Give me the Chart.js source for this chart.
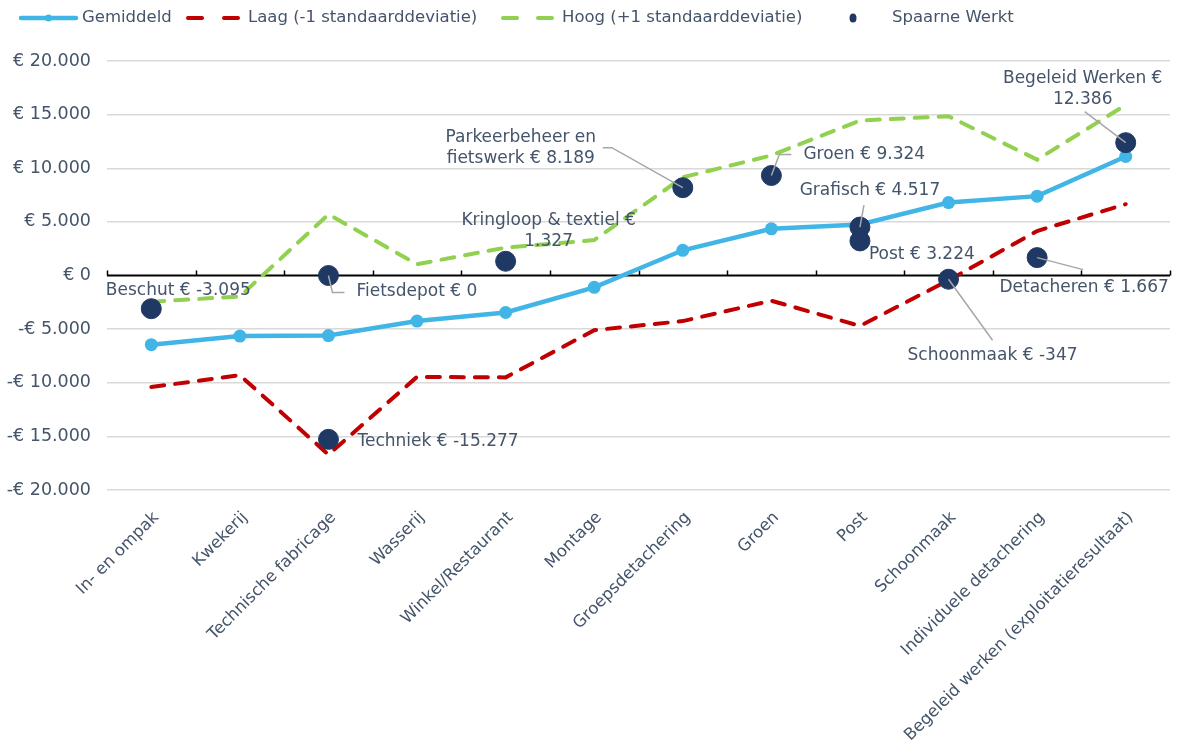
<!DOCTYPE html>
<html lang="nl">
<head>
<meta charset="utf-8">
<title>Spaarne Werkt - resultaat per werksoort</title>
<script src="https://cdn.jsdelivr.net/npm/chart.js@4.4.1/dist/chart.umd.min.js"></script>
<style>
  html, body { margin: 0; padding: 0; background: #fff; }
  #wrap { position: relative; width: 1177px; height: 744px; }
</style>
</head>
<body>
<div id="wrap"><canvas id="chart" width="1177" height="744"></canvas></div>
<script>
// Categorieen (x-as)
const categories = [
  'In- en ompak', 'Kwekerij', 'Technische fabricage', 'Wasserij',
  'Winkel/Restaurant', 'Montage', 'Groepsdetachering', 'Groen', 'Post',
  'Schoonmaak', 'Individuele detachering', 'Begeleid werken (exploitatieresultaat)'
];

// Benchmark reeksen
const gemiddeld = [-6450, -5650, -5600, -4250, -3450, -1100, 2350, 4350, 4750, 6800, 7400, 11100];
const laag = [-10400, -9300, -16700, -9450, -9500, -5100, -4250, -2350, -4700, -450, 4150, 6650];
const hoog = [-2450, -1950, 5700, 1050, 2600, 3300, 9150, 11200, 14450, 14850, 10800, 15900];

// Spaarne Werkt
const spaarneNames = [
  'Beschut', 'Fietsdepot', 'Techniek', 'Kringloop & textiel', 'Parkeerbeheer en fietswerk',
  'Groen', 'Grafisch', 'Post', 'Schoonmaak', 'Detacheren', 'Begeleid Werken'
];
const spaarneCategories = [
  'In- en ompak', 'Technische fabricage', 'Technische fabricage', 'Winkel/Restaurant',
  'Groepsdetachering', 'Groen', 'Post', 'Post', 'Schoonmaak',
  'Individuele detachering', 'Begeleid werken (exploitatieresultaat)'
];
const spaarneValues = [-3095, 0, -15277, 1327, 8189, 9324, 4517, 3224, -347, 1667, 12386];

// y-as
const yMin = -20000;
const yMax = 20000;
const yStep = 5000;

// Kleuren
const COLORS = {
  gemiddeld: '#41B6E6',
  laag: '#C00000',
  hoog: '#92D050',
  spaarne: '#203864',
  text: '#44546A',
  grid: '#D9D9D9',
  leader: '#A6A6A6'
};
const FONT = '"DejaVu Sans", Verdana, sans-serif';

// Plaatsing van de datalabels t.o.v. het punt (in pixels)
const labelLayout = [
  { align: 'center', dx: 27, dy: -18 },
  { align: 'left', dx: 28, dy: 16, leader: [[4, 17], [16, 17]] },
  { align: 'left', dx: 29, dy: 2 },
  { align: 'center', dx: 43, dy: -41, breakAt: 4 },
  { align: 'center', dx: -162, dy: -50, breakAt: 2, leader: [[-71, -40], [-80, -40]] },
  { align: 'left', dx: 32, dy: -21, leader: [[8, -21], [20, -21]] },
  { align: 'center', dx: 10, dy: -36, leader: [[4, -22]] },
  { align: 'left', dx: 9, dy: 14 },
  { align: 'center', dx: 44, dy: 76, leader: [[44, 61]] },
  { align: 'center', dx: 47, dy: 30, leader: [[46, 12]] },
  { align: 'center', dx: -43, dy: -64, breakAt: 3, leader: [[-41, -31]] }
];

/**
 * Duizendtallen met een punt (nl-NL)
 */
function thousands(n) {
  return String(Math.abs(n)).replace(/\B(?=(\d{3})+(?!\d))/g, '.');
}

function tickLabel(v) {
  return (v < 0 ? '-€ ' : '€ ') + thousands(v);
}

function dataLabel(name, v) {
  return name + ' € ' + (v < 0 ? '-' : '') + thousands(v);
}

const spaarnePoints = spaarneValues.map((v, i) => ({ x: spaarneCategories[i], y: v }));

// Nullijn met streepjes op de categoriegrenzen
const zeroAxis = {
  id: 'zeroAxis',
  beforeDatasetsDraw(chart) {
    const { ctx, chartArea } = chart;
    const x = chart.scales.x;
    const y0 = chart.scales.y.getPixelForValue(0);
    const half = (x.getPixelForValue(1) - x.getPixelForValue(0)) / 2;
    ctx.save();
    ctx.strokeStyle = '#000';
    ctx.lineWidth = 2;
    ctx.beginPath();
    ctx.moveTo(chartArea.left, y0);
    ctx.lineTo(chartArea.right, y0);
    ctx.stroke();
    ctx.lineWidth = 1.5;
    for (let i = 0; i <= categories.length; i++) {
      const px = Math.round(x.getPixelForValue(i) - half) + 0.5;
      ctx.beginPath();
      ctx.moveTo(px, y0 - 5);
      ctx.lineTo(px, y0);
      ctx.stroke();
    }
    ctx.restore();
  }
};

// Datalabels bij de Spaarne Werkt punten
const spaarneLabels = {
  id: 'spaarneLabels',
  afterDatasetsDraw(chart) {
    const ctx = chart.ctx;
    const meta = chart.getDatasetMeta(0);
    ctx.save();
    ctx.font = '17px ' + FONT;
    ctx.textBaseline = 'middle';
    meta.data.forEach((pt, i) => {
      const lay = labelLayout[i];
      if (lay.leader) {
        ctx.strokeStyle = COLORS.leader;
        ctx.lineWidth = 1.5;
        ctx.beginPath();
        ctx.moveTo(pt.x, pt.y);
        lay.leader.forEach(([dx, dy]) => ctx.lineTo(pt.x + dx, pt.y + dy));
        ctx.stroke();
      }
      const words = dataLabel(spaarneNames[i], spaarneValues[i]).split(' ');
      const lines = lay.breakAt
        ? [words.slice(0, lay.breakAt).join(' '), words.slice(lay.breakAt).join(' ')]
        : [words.join(' ')];
      ctx.fillStyle = COLORS.text;
      ctx.textAlign = lay.align;
      lines.forEach((line, k) => ctx.fillText(line, pt.x + lay.dx, pt.y + lay.dy + k * 21));
    });
    ctx.restore();
  }
};

// Legenda bovenaan, zoals in Excel
const topLegend = {
  id: 'topLegend',
  afterDraw(chart) {
    const ctx = chart.ctx;
    const y = 18;
    ctx.save();
    ctx.font = '16.5px ' + FONT;
    ctx.textBaseline = 'middle';
    ctx.textAlign = 'left';

    // Gemiddeld
    ctx.strokeStyle = COLORS.gemiddeld;
    ctx.lineWidth = 4.5;
    ctx.lineCap = 'round';
    ctx.beginPath(); ctx.moveTo(21, y); ctx.lineTo(76, y); ctx.stroke();
    ctx.fillStyle = COLORS.gemiddeld;
    ctx.beginPath(); ctx.arc(48.5, y, 3.5, 0, Math.PI * 2); ctx.fill();
    ctx.fillStyle = COLORS.text;
    ctx.fillText('Gemiddeld', 82, y);

    // Laag
    ctx.lineWidth = 4;
    ctx.strokeStyle = COLORS.laag;
    [[188, 202], [224, 238]].forEach(([a, b]) => {
      ctx.beginPath(); ctx.moveTo(a, y); ctx.lineTo(b, y); ctx.stroke();
    });
    ctx.fillText('Laag (-1 standaarddeviatie)', 248, y);

    // Hoog
    ctx.strokeStyle = COLORS.hoog;
    [[503, 517], [538, 552]].forEach(([a, b]) => {
      ctx.beginPath(); ctx.moveTo(a, y); ctx.lineTo(b, y); ctx.stroke();
    });
    ctx.fillText('Hoog (+1 standaarddeviatie)', 562, y);

    // Spaarne Werkt
    ctx.fillStyle = COLORS.spaarne;
    ctx.beginPath(); ctx.ellipse(853, y, 3.5, 4.5, 0, 0, Math.PI * 2); ctx.fill();
    ctx.fillStyle = COLORS.text;
    ctx.fillText('Spaarne Werkt', 892, y);
    ctx.restore();
  }
};

const chart = new Chart(document.getElementById('chart'), {
  type: 'line',
  data: {
    labels: categories,
    datasets: [
      {
        label: 'Spaarne Werkt',
        data: spaarnePoints,
        showLine: false,
        pointRadius: 10,
        pointHoverRadius: 10,
        pointBackgroundColor: COLORS.spaarne,
        pointBorderColor: COLORS.spaarne,
        order: 0
      },
      {
        label: 'Gemiddeld',
        data: gemiddeld,
        borderColor: COLORS.gemiddeld,
        backgroundColor: COLORS.gemiddeld,
        borderWidth: 4.5,
        pointRadius: 6.5,
        pointBackgroundColor: COLORS.gemiddeld,
        pointBorderWidth: 0,
        tension: 0,
        order: 1
      },
      {
        label: 'Laag (-1 standaarddeviatie)',
        data: laag,
        borderColor: COLORS.laag,
        borderWidth: 4,
        borderDash: [13, 11],
        borderCapStyle: 'round',
        pointRadius: 0,
        tension: 0,
        order: 2
      },
      {
        label: 'Hoog (+1 standaarddeviatie)',
        data: hoog,
        borderColor: COLORS.hoog,
        borderWidth: 4,
        borderDash: [13, 11],
        borderCapStyle: 'round',
        pointRadius: 0,
        tension: 0,
        order: 3
      }
    ]
  },
  options: {
    responsive: false,
    animation: false,
    layout: {
      autoPadding: false, // anders reserveert Chart.js ruimte voor de grote punten
      padding: { top: 61, right: 7, left: 0, bottom: 0 }
    },
    plugins: {
      legend: { display: false },
      tooltip: { enabled: false }
    },
    scales: {
      x: {
        type: 'category',
        offset: true,
        grid: { display: false },
        border: { display: false },
        ticks: {
          autoSkip: false,
          maxRotation: 45,
          minRotation: 45,
          padding: 10,
          labelOffset: 5,
          color: COLORS.text,
          font: { family: FONT, size: 16.5 }
        },
        afterFit(scale) {
          scale.height = 254;
          scale.paddingLeft = 0;
          scale.paddingRight = 0;
        }
      },
      y: {
        min: yMin,
        max: yMax,
        grid: {
          color: (c) => (c.tick && c.tick.value === 0 ? 'rgba(0,0,0,0)' : COLORS.grid),
          lineWidth: 1.5,
          drawTicks: false
        },
        border: { display: false },
        ticks: {
          stepSize: yStep,
          padding: 16,
          color: COLORS.text,
          font: { family: FONT, size: 17.5 },
          callback: (v) => tickLabel(v)
        },
        afterFit(scale) { scale.width = 107; }
      }
    }
  },
  plugins: [zeroAxis, spaarneLabels, topLegend]
});
</script>
</body>
</html>
